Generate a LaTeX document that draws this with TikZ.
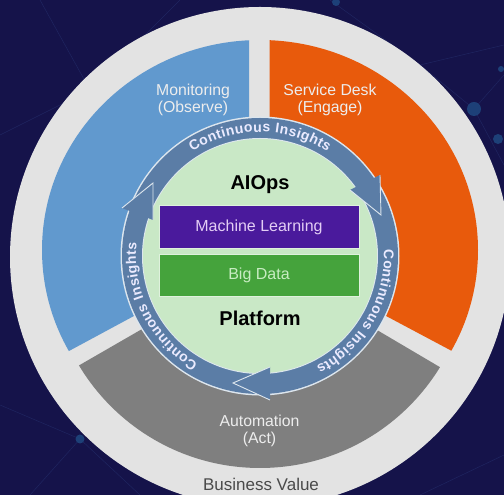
\documentclass[tikz,border=0pt]{standalone}
\usepackage{fontspec}
\setmainfont{Liberation Sans}
\usetikzlibrary{decorations.text}
\definecolor{bgnavy}{HTML}{15134A}
\definecolor{bgline}{HTML}{1F2560}
\definecolor{bgdot}{HTML}{1D4078}
\definecolor{disc}{HTML}{E3E3E3}
\definecolor{blueseg}{HTML}{6199CE}
\definecolor{orangeseg}{HTML}{E85A0C}
\definecolor{grayseg}{HTML}{7F7F7F}
\definecolor{mint}{HTML}{C9E8C6}
\definecolor{band}{HTML}{5B7DA6}
\definecolor{bandedge}{HTML}{DDE6EE}
\definecolor{purplebar}{HTML}{4A1A9C}
\definecolor{greenbar}{HTML}{45A33C}
\definecolor{lav}{HTML}{E3CDF5}
\definecolor{lgreen}{HTML}{C8ECC2}
\definecolor{segtext}{HTML}{EDEDED}
\definecolor{darktxt}{HTML}{4A4A4A}
\tikzset{
  seglabel/.style={text=segtext,align=center,font=\fontsize{15.8}{17}\selectfont},
  titlelabel/.style={text=black,font=\fontsize{20}{22}\selectfont\bfseries},
  barbox/.style={minimum width=200pt,minimum height=42.5pt,inner sep=0pt,draw=mint!60!white,line width=.5pt,font=\fontsize{16}{18}\selectfont},
  headfill/.style={fill=band},
  headedge/.style={draw=bandedge,line width=.9pt,line join=miter},
  ringtext/.style={decorate,decoration={text along path,text align={fit to path},
     text={|\fontsize{14}{15}\selectfont\bfseries\color{white!92!blue}|Continuous Insights}}},
  netline/.style={bgline,line width=.5pt},
  netdot/.style={fill=bgdot,draw=none}
}
\begin{document}
\begin{tikzpicture}[x=1pt,y=1pt]
\useasboundingbox (0,0) rectangle (504,495);
\fill[bgnavy] (0,0) rectangle (504,495);
% faint network background
\draw[netline] (40,495)--(90,405)--(0,360) (90,405)--(180,495) (330,495)--(420,430)--(504,450) (420,430)--(474,386)--(504,330) (474,386)--(504,420) (0,90)--(80,56)--(30,0) (80,56)--(140,0) (420,0)--(504,40);
\fill[netdot] (474,386) circle[radius=7pt];
\fill[netdot] (498,356) circle[radius=5pt];
\fill[netdot] (501,426) circle[radius=3pt];
\fill[netdot] (80,56) circle[radius=4.5pt];
\fill[netdot] (336,493) circle[radius=4pt];
% outer disc
\fill[disc] (260,238) circle[radius=250pt];
% sectors
\begin{scope}
  \clip (249,495)--(249,241)--(69,144)--(0,107)--(0,495)--cycle;
  \fill[blueseg] (260,245) ellipse[x radius=218pt,y radius=210pt];
\end{scope}
\begin{scope}
  \clip (269.5,495)--(269.5,241)--(450,145)--(504,116)--(504,495)--cycle;
  \fill[orangeseg] (260,245) ellipse[x radius=218pt,y radius=210pt];
\end{scope}
\begin{scope}
  \clip (78,129)--(260,234)--(438,129)--(504,91)--(504,0)--(0,0)--(0,84)--cycle;
  \fill[grayseg] (260,238) circle[radius=211pt];
\end{scope}
% ring and mint centre
\fill[bandedge] (260,239) circle[radius=139.5pt];
\fill[band] (260,239) circle[radius=138pt];
\fill[bandedge] (260,239) circle[radius=118pt];
\fill[mint] (260,239) circle[radius=117pt];
% arrowheads
\fill[headfill] (381,280)--(350,305)--(380,320)--cycle;
\draw[headedge] (350,305)--(381,280)--(380,320);
\fill[headfill] (233,112)--(270,128)--(270,95)--cycle;
\draw[headedge] (270,128)--(233,112)--(270,95);
\fill[headfill] (122,287)--(153,312)--(153,275)--cycle;
\draw[headedge] (153,275)--(153,312)--(122,287);
% ring texts
\path[ringtext] (260,239) ++(123:124pt) arc[start angle=123,end angle=57,radius=124pt];
\path[ringtext] (260,239) ++(3:124pt) arc[start angle=3,end angle=-63,radius=124pt];
\path[ringtext] (260,239) ++(240:124pt) arc[start angle=240,end angle=174,radius=124pt];
% bars
\node[barbox,fill=purplebar,text=lav] (ml) at (259,268) {Machine Learning};
\node[barbox,fill=greenbar,text=lgreen] (bd) at (259,219.5) {Big Data};
\node[titlelabel] (aiops) at (260,310.5) {AIOps};
\node[titlelabel] (platform) at (260,177) {Platform};
% labels
\node[seglabel] (mon) at (193,395.5) {Monitoring\\(Observe)};
\node[seglabel] (sd) at (330,395.5) {Service Desk\\(Engage)};
\node[seglabel] (auto) at (259.5,64.5) {Automation\\(Act)};
\node[text=darktxt,font=\fontsize{17}{19}\selectfont] (bv) at (261,11) {Business Value};
\end{tikzpicture}
\end{document}
